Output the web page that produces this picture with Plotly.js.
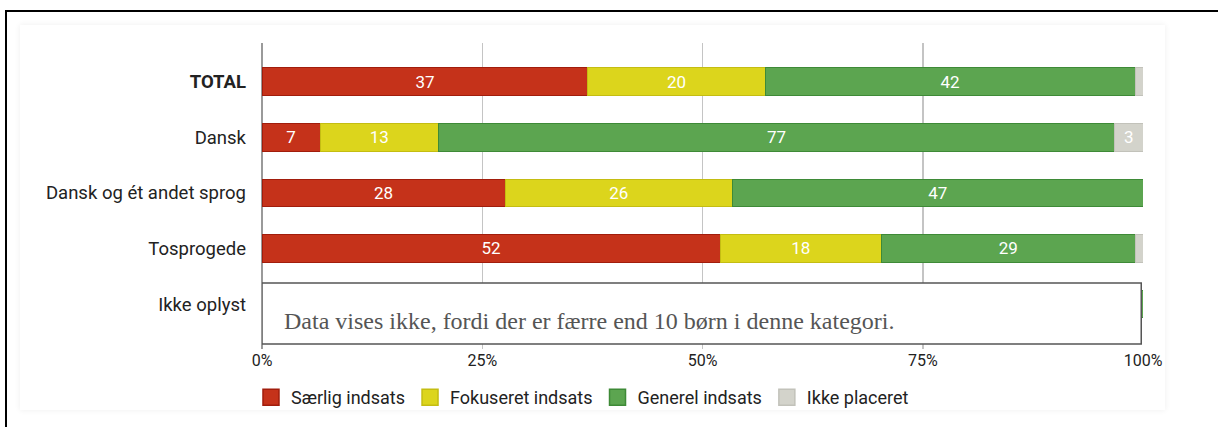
<!DOCTYPE html>
<html>
<head>
<meta charset="utf-8">
<script src="https://cdn.plot.ly/plotly-3.0.1.min.js"></script>
<style>
  body { margin: 0; background: #fff; }
  #frame { position: absolute; left: 5px; top: 10px; width: 1213px; height: 417px;
           border-top: 2px solid #000; border-left: 2px solid #000; box-sizing: border-box; }
  #card { position: absolute; left: 20px; top: 25px; width: 1145px; height: 385px;
          box-shadow: 0 0 6px rgba(0,0,0,0.07); background: #fff; }
  #chart { position: absolute; left: 0; top: 0; width: 1218px; height: 427px; }
</style>
</head>
<body>
<div id="frame"></div>
<div id="card"></div>
<div id="chart"></div>
<script>
// kategorier, øverst først
let cats = ["TOTAL", "Dansk", "Dansk og ét andet sprog", "Tosprogede", "Ikke oplyst"];
let catLabels = ["<b>TOTAL</b>", "Dansk", "Dansk og ét andet sprog", "Tosprogede", "Ikke oplyst"];

// andele i procent (Ikke oplyst er skjult bag boksen)
let saerlig   = [37, 6.6, 27.6, 52.0, 30];
let fokuseret = [20.1, 13.4, 25.8, 18.3, 20];
let generel   = [42.0, 76.8, 46.6, 28.8, 50];
let ikkePlac  = [0.9, 3.2, 0, 0.9, 0];
let hidden    = [false, false, false, false, true];

let names  = ["Særlig indsats", "Fokuseret indsats", "Generel indsats", "Ikke placeret"];
let colors = ["#c5321a", "#dcd51c", "#5ca550", "#d3d3cb"];
let edges  = ["#a11d0c", "#c4bd12", "#3e8a37", "#c2c2ba"];
let series = [saerlig, fokuseret, generel, ikkePlac];

let traces = series.map(function (vals, k) {
    return {
        type: "bar",
        orientation: "h",
        name: names[k],
        showlegend: false,
        x: vals,
        y: cats,
        width: 0.5,
        marker: { color: colors[k], line: { color: edges[k], width: 1 } },
        text: vals.map(function (v, i) { return hidden[i] ? "" : String(Math.round(v)); }),
        textposition: "inside",
        insidetextanchor: "middle",
        insidetextfont: { color: "#ffffff", size: 17, family: "Roboto" },
        hoverinfo: "skip"
    };
});

// legend-firkanter
names.forEach(function (n, k) {
    traces.push({
        type: "scatter",
        mode: "markers",
        name: n,
        x: [null],
        y: [null],
        marker: { symbol: "square", size: 16, color: colors[k], line: { color: edges[k], width: 1.5 } },
        hoverinfo: "skip"
    });
});

var layout = {
    width: 1218,
    height: 427,
    barmode: "stack",
    paper_bgcolor: "rgba(0,0,0,0)",
    plot_bgcolor: "rgba(0,0,0,0)",
    margin: { l: 262, r: 75, t: 43, b: 77, pad: 0 },
    font: { family: "Roboto", size: 15, color: "#222" },
    uniformtext: { mode: "hide", minsize: 14 },
    xaxis: {
        range: [0, 100],
        tickvals: [0, 25, 50, 75, 100],
        ticktext: ["0%", "25%", "50%", "75%", "100%"],
        showgrid: true,
        gridcolor: "#c4c4c4",
        gridwidth: 1.5,
        zeroline: true,
        zerolinecolor: "#9a9a9a",
        zerolinewidth: 2,
        showline: false,
        ticks: "",
        tickfont: { size: 16, color: "#222" },
        fixedrange: true
    },
    yaxis: {
        type: "category",
        categoryorder: "array",
        categoryarray: cats,
        tickvals: cats,
        ticktext: catLabels,
        range: [4.81, -0.70],
        showgrid: false,
        zeroline: false,
        ticks: "",
        ticklabelstandoff: 15,
        tickfont: { size: 18.5, color: "#222" },
        fixedrange: true
    },
    showlegend: true,
    legend: {
        orientation: "h",
        x: -0.0125, xanchor: "left",
        y: -0.095, yanchor: "top",
        traceorder: "normal",
        itemwidth: 30,
        font: { size: 18, color: "#222" },
        bgcolor: "rgba(0,0,0,0)"
    },
    shapes: [{
        type: "rect",
        xref: "x", yref: "y",
        x0: 0, x1: 99.8,
        y0: 3.62, y1: 4.72,
        fillcolor: "#ffffff",
        line: { color: "#555555", width: 1.5 },
        layer: "above"
    }],
    annotations: [{
        xref: "x", yref: "y",
        x: 2.3, y: 4.3,
        xanchor: "left", yanchor: "middle",
        showarrow: false,
        text: "Data vises ikke, fordi der er færre end 10 børn i denne kategori.",
        font: { family: "Liberation Serif", size: 24, color: "#555555" }
    }]
};

Plotly.newPlot("chart", traces, layout, { displayModeBar: false, staticPlot: true });
</script>
</body>
</html>
